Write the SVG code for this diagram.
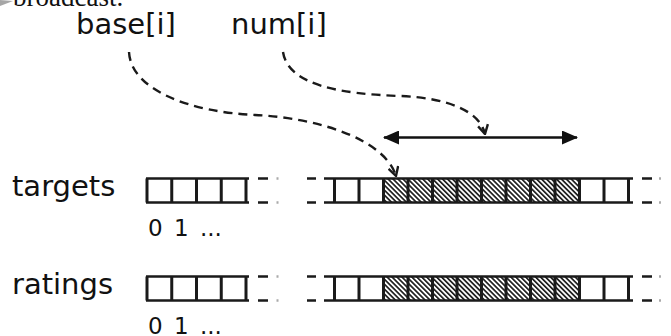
<svg xmlns="http://www.w3.org/2000/svg" width="671" height="336" viewBox="0 0 671 336">
  <style>
    .lbl { font-family: "DejaVu Sans", Verdana, sans-serif; font-size: 29px; fill: #111; }
    .idx { font-family: "DejaVu Sans", Verdana, sans-serif; font-size: 23px; fill: #111; word-spacing: 4px; }
    .ser { font-family: "Liberation Serif", "Times New Roman", serif; font-size: 27px; fill: #111; }
    .h { stroke: #1a1a1a; stroke-width: 2.6; fill: none; }
    .v { stroke: #1a1a1a; stroke-width: 3; fill: none; }
    .dot { stroke: #aaa; stroke-width: 2.4; fill: none; }
    .dash { stroke: #1a1a1a; stroke-width: 2.4; fill: none; stroke-dasharray: 9 6; }
    .solid { stroke: #111; stroke-width: 2.6; fill: none; }
  </style>
  <defs>
    <pattern id="hatch" width="3.5" height="3.5" patternUnits="userSpaceOnUse" patternTransform="rotate(-45)">
      <rect width="3.5" height="3.5" fill="#fff"/>
      <rect width="1.7" height="3.5" fill="#1e1e1e"/>
    </pattern>
    <marker id="openV" viewBox="0 0 12 12" refX="11" refY="6" markerWidth="12" markerHeight="12" markerUnits="userSpaceOnUse" orient="auto">
      <path d="M2,1 L11,6 L2,11" fill="none" stroke="#1a1a1a" stroke-width="2.4"/>
    </marker>
    <marker id="solidHead" viewBox="0 0 16 14" refX="15" refY="7" markerWidth="16" markerHeight="14" markerUnits="userSpaceOnUse" orient="auto-start-reverse">
      <path d="M0,0 L16,7 L0,14 Z" fill="#111"/>
    </marker>
  </defs>

  <!-- slide remnant at the top edge -->
  <g id="header">
    <polygon points="0,0 13,1 0,6" fill="#a6a6a6"/>
    <text class="ser" x="13" y="5.5">broadcast.</text>
  </g>

  <!-- index variables -->
  <g id="base">
    <text class="lbl" x="76" y="34">base[i]</text>
  </g>
  <g id="num">
    <text class="lbl" x="231" y="34">num[i]</text>
  </g>

  <!-- targets array -->
  <g id="targets">
    <text class="lbl" x="12" y="196">targets</text>
    <rect x="383.5" y="178.5" width="196" height="24" fill="url(#hatch)"/>
    <path class="h" d="M146,178.5 H249 M146,202.5 H249"/>
    <path class="v" d="M147,178.5 V202.5 M171.75,178.5 V202.5 M196.5,178.5 V202.5 M221.25,178.5 V202.5 M246,178.5 V202.5"/>
    <path class="h" d="M258,178.5 H268 M258,202.5 H268 M307,178.5 H316 M307,202.5 H316"/>
    <path class="dot" d="M276.5,178.5 H278.5 M276.5,202.5 H278.5 M659,178.5 H661 M659,202.5 H661"/>
    <path class="h" d="M324,178.5 H633 M324,202.5 H633 M642,178.5 H652 M642,202.5 H652"/>
    <path class="v" d="M334.5,178.5 V202.5 M359,178.5 V202.5 M383.5,178.5 V202.5 M408,178.5 V202.5 M432.5,178.5 V202.5 M457,178.5 V202.5 M481.5,178.5 V202.5 M506,178.5 V202.5 M530.5,178.5 V202.5 M555,178.5 V202.5 M579.5,178.5 V202.5 M604,178.5 V202.5 M628.5,178.5 V202.5"/>
    <text class="idx" x="148" y="236">0 1 ...</text>
  </g>

  <!-- ratings array -->
  <g id="ratings">
    <text class="lbl" x="12" y="294">ratings</text>
    <rect x="383.5" y="276.5" width="196" height="24" fill="url(#hatch)"/>
    <path class="h" d="M146,276.5 H249 M146,300.5 H249"/>
    <path class="v" d="M147,276.5 V300.5 M171.75,276.5 V300.5 M196.5,276.5 V300.5 M221.25,276.5 V300.5 M246,276.5 V300.5"/>
    <path class="h" d="M258,276.5 H268 M258,300.5 H268 M307,276.5 H316 M307,300.5 H316"/>
    <path class="dot" d="M276.5,276.5 H278.5 M276.5,300.5 H278.5 M659,276.5 H661 M659,300.5 H661"/>
    <path class="h" d="M324,276.5 H633 M324,300.5 H633 M642,276.5 H652 M642,300.5 H652"/>
    <path class="v" d="M334.5,276.5 V300.5 M359,276.5 V300.5 M383.5,276.5 V300.5 M408,276.5 V300.5 M432.5,276.5 V300.5 M457,276.5 V300.5 M481.5,276.5 V300.5 M506,276.5 V300.5 M530.5,276.5 V300.5 M555,276.5 V300.5 M579.5,276.5 V300.5 M604,276.5 V300.5 M628.5,276.5 V300.5"/>
    <text class="idx" x="148" y="334">0 1 ...</text>
  </g>

  <!-- connectors -->
  <g id="connectors">
    <path class="dash" d="M129,52 C131,90 190,112 255,115 C320,118 385,140 396,176" marker-end="url(#openV)"/>
    <path class="dash" d="M283,52 C288,85 340,94 400,96 C450,98 480,112 485,134" marker-end="url(#openV)"/>
    <path class="solid" d="M384,137.5 H577" marker-start="url(#solidHead)" marker-end="url(#solidHead)"/>
  </g>
</svg>
